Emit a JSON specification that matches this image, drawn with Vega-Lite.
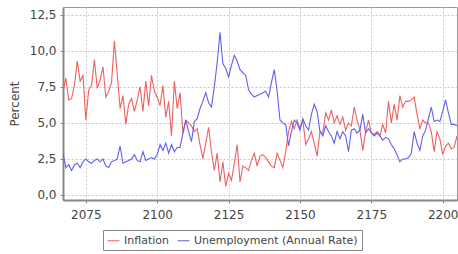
{
"$schema":"https://vega.github.io/schema/vega-lite/v6.json",
"width":394,"height":193,
"autosize":{"type":"none"},
"padding":{"left":63,"top":7,"right":1,"bottom":54},
"background":"white",
"config":{"view":{"stroke":"#999","strokeWidth":1},"font":"DejaVu Sans"},
"data":{"values":[
{"year":2067,"series":"Inflation","value":7.2},{"year":2068,"series":"Inflation","value":8.1},{"year":2069,"series":"Inflation","value":6.6},{"year":2070,"series":"Inflation","value":6.7},{"year":2071,"series":"Inflation","value":7.6},{"year":2072,"series":"Inflation","value":9.3},{"year":2073,"series":"Inflation","value":7.9},{"year":2074,"series":"Inflation","value":8.3},{"year":2075,"series":"Inflation","value":5.2},{"year":2076,"series":"Inflation","value":7.3},{"year":2077,"series":"Inflation","value":7.6},{"year":2078,"series":"Inflation","value":9.4},{"year":2079,"series":"Inflation","value":7.4},{"year":2080,"series":"Inflation","value":8.0},{"year":2081,"series":"Inflation","value":8.9},{"year":2082,"series":"Inflation","value":6.8},{"year":2083,"series":"Inflation","value":7.2},{"year":2084,"series":"Inflation","value":7.8},{"year":2085,"series":"Inflation","value":10.7},{"year":2086,"series":"Inflation","value":8.4},{"year":2087,"series":"Inflation","value":6.0},{"year":2088,"series":"Inflation","value":6.9},{"year":2089,"series":"Inflation","value":4.9},{"year":2090,"series":"Inflation","value":6.3},{"year":2091,"series":"Inflation","value":6.7},{"year":2092,"series":"Inflation","value":5.8},{"year":2093,"series":"Inflation","value":6.6},{"year":2094,"series":"Inflation","value":7.5},{"year":2095,"series":"Inflation","value":5.8},{"year":2096,"series":"Inflation","value":7.9},{"year":2097,"series":"Inflation","value":6.2},{"year":2098,"series":"Inflation","value":8.3},{"year":2099,"series":"Inflation","value":7.2},{"year":2100,"series":"Inflation","value":6.8},{"year":2101,"series":"Inflation","value":6.2},{"year":2102,"series":"Inflation","value":7.6},{"year":2103,"series":"Inflation","value":5.4},{"year":2104,"series":"Inflation","value":6.5},{"year":2105,"series":"Inflation","value":4.1},{"year":2106,"series":"Inflation","value":7.9},{"year":2107,"series":"Inflation","value":6.0},{"year":2108,"series":"Inflation","value":7.1},{"year":2109,"series":"Inflation","value":4.3},{"year":2110,"series":"Inflation","value":5.2},{"year":2111,"series":"Inflation","value":5.0},{"year":2112,"series":"Inflation","value":4.8},{"year":2113,"series":"Inflation","value":4.4},{"year":2114,"series":"Inflation","value":4.6},{"year":2115,"series":"Inflation","value":3.5},{"year":2116,"series":"Inflation","value":2.5},{"year":2117,"series":"Inflation","value":3.6},{"year":2118,"series":"Inflation","value":4.7},{"year":2119,"series":"Inflation","value":3.0},{"year":2120,"series":"Inflation","value":1.7},{"year":2121,"series":"Inflation","value":2.9},{"year":2122,"series":"Inflation","value":0.9},{"year":2123,"series":"Inflation","value":2.3},{"year":2124,"series":"Inflation","value":0.6},{"year":2125,"series":"Inflation","value":1.5},{"year":2126,"series":"Inflation","value":1.0},{"year":2127,"series":"Inflation","value":2.2},{"year":2128,"series":"Inflation","value":3.5},{"year":2129,"series":"Inflation","value":0.9},{"year":2130,"series":"Inflation","value":2.0},{"year":2131,"series":"Inflation","value":1.9},{"year":2132,"series":"Inflation","value":1.7},{"year":2133,"series":"Inflation","value":2.4},{"year":2134,"series":"Inflation","value":2.9},{"year":2135,"series":"Inflation","value":2.0},{"year":2136,"series":"Inflation","value":2.7},{"year":2137,"series":"Inflation","value":2.8},{"year":2138,"series":"Inflation","value":2.6},{"year":2139,"series":"Inflation","value":2.3},{"year":2140,"series":"Inflation","value":2.0},{"year":2141,"series":"Inflation","value":1.9},{"year":2142,"series":"Inflation","value":2.9},{"year":2143,"series":"Inflation","value":2.4},{"year":2144,"series":"Inflation","value":1.9},{"year":2145,"series":"Inflation","value":3.0},{"year":2146,"series":"Inflation","value":4.4},{"year":2147,"series":"Inflation","value":5.1},{"year":2148,"series":"Inflation","value":4.6},{"year":2149,"series":"Inflation","value":5.2},{"year":2150,"series":"Inflation","value":4.6},{"year":2151,"series":"Inflation","value":5.2},{"year":2152,"series":"Inflation","value":3.5},{"year":2153,"series":"Inflation","value":3.9},{"year":2154,"series":"Inflation","value":4.4},{"year":2155,"series":"Inflation","value":3.6},{"year":2156,"series":"Inflation","value":2.7},{"year":2157,"series":"Inflation","value":4.4},{"year":2158,"series":"Inflation","value":4.3},{"year":2159,"series":"Inflation","value":5.7},{"year":2160,"series":"Inflation","value":5.2},{"year":2161,"series":"Inflation","value":5.9},{"year":2162,"series":"Inflation","value":5.0},{"year":2163,"series":"Inflation","value":5.5},{"year":2164,"series":"Inflation","value":4.9},{"year":2165,"series":"Inflation","value":5.4},{"year":2166,"series":"Inflation","value":4.5},{"year":2167,"series":"Inflation","value":5.0},{"year":2168,"series":"Inflation","value":4.8},{"year":2169,"series":"Inflation","value":6.1},{"year":2170,"series":"Inflation","value":5.2},{"year":2171,"series":"Inflation","value":4.5},{"year":2172,"series":"Inflation","value":3.1},{"year":2173,"series":"Inflation","value":4.4},{"year":2174,"series":"Inflation","value":5.2},{"year":2175,"series":"Inflation","value":4.3},{"year":2176,"series":"Inflation","value":4.2},{"year":2177,"series":"Inflation","value":4.4},{"year":2178,"series":"Inflation","value":4.1},{"year":2179,"series":"Inflation","value":4.9},{"year":2180,"series":"Inflation","value":4.3},{"year":2181,"series":"Inflation","value":6.5},{"year":2182,"series":"Inflation","value":5.0},{"year":2183,"series":"Inflation","value":6.3},{"year":2184,"series":"Inflation","value":5.2},{"year":2185,"series":"Inflation","value":6.9},{"year":2186,"series":"Inflation","value":6.1},{"year":2187,"series":"Inflation","value":6.5},{"year":2188,"series":"Inflation","value":6.5},{"year":2189,"series":"Inflation","value":6.6},{"year":2190,"series":"Inflation","value":6.8},{"year":2191,"series":"Inflation","value":5.6},{"year":2192,"series":"Inflation","value":4.6},{"year":2193,"series":"Inflation","value":5.2},{"year":2194,"series":"Inflation","value":5.0},{"year":2195,"series":"Inflation","value":5.0},{"year":2196,"series":"Inflation","value":4.4},{"year":2197,"series":"Inflation","value":3.0},{"year":2198,"series":"Inflation","value":4.4},{"year":2199,"series":"Inflation","value":3.9},{"year":2200,"series":"Inflation","value":2.8},{"year":2201,"series":"Inflation","value":3.4},{"year":2202,"series":"Inflation","value":3.6},{"year":2203,"series":"Inflation","value":3.2},{"year":2204,"series":"Inflation","value":3.3},{"year":2205,"series":"Inflation","value":4.1},
{"year":2067,"series":"Unemployment (Annual Rate)","value":2.9},{"year":2068,"series":"Unemployment (Annual Rate)","value":1.9},{"year":2069,"series":"Unemployment (Annual Rate)","value":2.1},{"year":2070,"series":"Unemployment (Annual Rate)","value":1.7},{"year":2071,"series":"Unemployment (Annual Rate)","value":2.1},{"year":2072,"series":"Unemployment (Annual Rate)","value":2.2},{"year":2073,"series":"Unemployment (Annual Rate)","value":1.9},{"year":2074,"series":"Unemployment (Annual Rate)","value":2.3},{"year":2075,"series":"Unemployment (Annual Rate)","value":2.5},{"year":2076,"series":"Unemployment (Annual Rate)","value":2.3},{"year":2077,"series":"Unemployment (Annual Rate)","value":2.2},{"year":2078,"series":"Unemployment (Annual Rate)","value":2.4},{"year":2079,"series":"Unemployment (Annual Rate)","value":2.5},{"year":2080,"series":"Unemployment (Annual Rate)","value":2.3},{"year":2081,"series":"Unemployment (Annual Rate)","value":2.5},{"year":2082,"series":"Unemployment (Annual Rate)","value":2.0},{"year":2083,"series":"Unemployment (Annual Rate)","value":1.9},{"year":2084,"series":"Unemployment (Annual Rate)","value":2.3},{"year":2085,"series":"Unemployment (Annual Rate)","value":2.4},{"year":2086,"series":"Unemployment (Annual Rate)","value":2.5},{"year":2087,"series":"Unemployment (Annual Rate)","value":3.4},{"year":2088,"series":"Unemployment (Annual Rate)","value":2.2},{"year":2089,"series":"Unemployment (Annual Rate)","value":2.3},{"year":2090,"series":"Unemployment (Annual Rate)","value":2.4},{"year":2091,"series":"Unemployment (Annual Rate)","value":2.5},{"year":2092,"series":"Unemployment (Annual Rate)","value":2.8},{"year":2093,"series":"Unemployment (Annual Rate)","value":2.4},{"year":2094,"series":"Unemployment (Annual Rate)","value":2.3},{"year":2095,"series":"Unemployment (Annual Rate)","value":3.0},{"year":2096,"series":"Unemployment (Annual Rate)","value":2.4},{"year":2097,"series":"Unemployment (Annual Rate)","value":2.5},{"year":2098,"series":"Unemployment (Annual Rate)","value":2.6},{"year":2099,"series":"Unemployment (Annual Rate)","value":2.5},{"year":2100,"series":"Unemployment (Annual Rate)","value":2.8},{"year":2101,"series":"Unemployment (Annual Rate)","value":3.5},{"year":2102,"series":"Unemployment (Annual Rate)","value":3.1},{"year":2103,"series":"Unemployment (Annual Rate)","value":3.6},{"year":2104,"series":"Unemployment (Annual Rate)","value":2.9},{"year":2105,"series":"Unemployment (Annual Rate)","value":3.5},{"year":2106,"series":"Unemployment (Annual Rate)","value":3.0},{"year":2107,"series":"Unemployment (Annual Rate)","value":3.3},{"year":2108,"series":"Unemployment (Annual Rate)","value":3.3},{"year":2109,"series":"Unemployment (Annual Rate)","value":4.3},{"year":2110,"series":"Unemployment (Annual Rate)","value":5.2},{"year":2111,"series":"Unemployment (Annual Rate)","value":4.4},{"year":2112,"series":"Unemployment (Annual Rate)","value":3.7},{"year":2113,"series":"Unemployment (Annual Rate)","value":5.1},{"year":2114,"series":"Unemployment (Annual Rate)","value":5.3},{"year":2115,"series":"Unemployment (Annual Rate)","value":6.0},{"year":2116,"series":"Unemployment (Annual Rate)","value":6.5},{"year":2117,"series":"Unemployment (Annual Rate)","value":7.1},{"year":2118,"series":"Unemployment (Annual Rate)","value":6.4},{"year":2119,"series":"Unemployment (Annual Rate)","value":6.1},{"year":2120,"series":"Unemployment (Annual Rate)","value":7.5},{"year":2121,"series":"Unemployment (Annual Rate)","value":9.2},{"year":2122,"series":"Unemployment (Annual Rate)","value":11.3},{"year":2123,"series":"Unemployment (Annual Rate)","value":9.1},{"year":2124,"series":"Unemployment (Annual Rate)","value":8.8},{"year":2125,"series":"Unemployment (Annual Rate)","value":8.2},{"year":2126,"series":"Unemployment (Annual Rate)","value":9.0},{"year":2127,"series":"Unemployment (Annual Rate)","value":9.7},{"year":2128,"series":"Unemployment (Annual Rate)","value":9.3},{"year":2129,"series":"Unemployment (Annual Rate)","value":8.7},{"year":2130,"series":"Unemployment (Annual Rate)","value":8.5},{"year":2131,"series":"Unemployment (Annual Rate)","value":8.3},{"year":2132,"series":"Unemployment (Annual Rate)","value":7.3},{"year":2133,"series":"Unemployment (Annual Rate)","value":7.0},{"year":2134,"series":"Unemployment (Annual Rate)","value":6.8},{"year":2135,"series":"Unemployment (Annual Rate)","value":6.9},{"year":2136,"series":"Unemployment (Annual Rate)","value":7.0},{"year":2137,"series":"Unemployment (Annual Rate)","value":7.1},{"year":2138,"series":"Unemployment (Annual Rate)","value":7.2},{"year":2139,"series":"Unemployment (Annual Rate)","value":6.8},{"year":2140,"series":"Unemployment (Annual Rate)","value":7.8},{"year":2141,"series":"Unemployment (Annual Rate)","value":8.7},{"year":2142,"series":"Unemployment (Annual Rate)","value":7.2},{"year":2143,"series":"Unemployment (Annual Rate)","value":5.2},{"year":2144,"series":"Unemployment (Annual Rate)","value":5.0},{"year":2145,"series":"Unemployment (Annual Rate)","value":4.9},{"year":2146,"series":"Unemployment (Annual Rate)","value":3.4},{"year":2147,"series":"Unemployment (Annual Rate)","value":4.4},{"year":2148,"series":"Unemployment (Annual Rate)","value":5.2},{"year":2149,"series":"Unemployment (Annual Rate)","value":5.0},{"year":2150,"series":"Unemployment (Annual Rate)","value":4.5},{"year":2151,"series":"Unemployment (Annual Rate)","value":5.3},{"year":2152,"series":"Unemployment (Annual Rate)","value":4.8},{"year":2153,"series":"Unemployment (Annual Rate)","value":4.5},{"year":2154,"series":"Unemployment (Annual Rate)","value":5.6},{"year":2155,"series":"Unemployment (Annual Rate)","value":6.3},{"year":2156,"series":"Unemployment (Annual Rate)","value":5.8},{"year":2157,"series":"Unemployment (Annual Rate)","value":4.4},{"year":2158,"series":"Unemployment (Annual Rate)","value":4.1},{"year":2159,"series":"Unemployment (Annual Rate)","value":4.8},{"year":2160,"series":"Unemployment (Annual Rate)","value":4.4},{"year":2161,"series":"Unemployment (Annual Rate)","value":4.1},{"year":2162,"series":"Unemployment (Annual Rate)","value":3.6},{"year":2163,"series":"Unemployment (Annual Rate)","value":4.4},{"year":2164,"series":"Unemployment (Annual Rate)","value":3.9},{"year":2165,"series":"Unemployment (Annual Rate)","value":4.4},{"year":2166,"series":"Unemployment (Annual Rate)","value":4.1},{"year":2167,"series":"Unemployment (Annual Rate)","value":3.0},{"year":2168,"series":"Unemployment (Annual Rate)","value":4.5},{"year":2169,"series":"Unemployment (Annual Rate)","value":4.6},{"year":2170,"series":"Unemployment (Annual Rate)","value":4.3},{"year":2171,"series":"Unemployment (Annual Rate)","value":4.5},{"year":2172,"series":"Unemployment (Annual Rate)","value":5.6},{"year":2173,"series":"Unemployment (Annual Rate)","value":4.3},{"year":2174,"series":"Unemployment (Annual Rate)","value":4.6},{"year":2175,"series":"Unemployment (Annual Rate)","value":4.3},{"year":2176,"series":"Unemployment (Annual Rate)","value":4.1},{"year":2177,"series":"Unemployment (Annual Rate)","value":4.3},{"year":2178,"series":"Unemployment (Annual Rate)","value":4.1},{"year":2179,"series":"Unemployment (Annual Rate)","value":3.8},{"year":2180,"series":"Unemployment (Annual Rate)","value":4.0},{"year":2181,"series":"Unemployment (Annual Rate)","value":3.9},{"year":2182,"series":"Unemployment (Annual Rate)","value":3.5},{"year":2183,"series":"Unemployment (Annual Rate)","value":3.2},{"year":2184,"series":"Unemployment (Annual Rate)","value":2.8},{"year":2185,"series":"Unemployment (Annual Rate)","value":2.3},{"year":2186,"series":"Unemployment (Annual Rate)","value":2.5},{"year":2187,"series":"Unemployment (Annual Rate)","value":2.5},{"year":2188,"series":"Unemployment (Annual Rate)","value":2.6},{"year":2189,"series":"Unemployment (Annual Rate)","value":2.9},{"year":2190,"series":"Unemployment (Annual Rate)","value":4.4},{"year":2191,"series":"Unemployment (Annual Rate)","value":3.6},{"year":2192,"series":"Unemployment (Annual Rate)","value":3.1},{"year":2193,"series":"Unemployment (Annual Rate)","value":4.1},{"year":2194,"series":"Unemployment (Annual Rate)","value":4.5},{"year":2195,"series":"Unemployment (Annual Rate)","value":5.3},{"year":2196,"series":"Unemployment (Annual Rate)","value":6.1},{"year":2197,"series":"Unemployment (Annual Rate)","value":5.1},{"year":2198,"series":"Unemployment (Annual Rate)","value":5.2},{"year":2199,"series":"Unemployment (Annual Rate)","value":5.1},{"year":2200,"series":"Unemployment (Annual Rate)","value":5.8},{"year":2201,"series":"Unemployment (Annual Rate)","value":6.6},{"year":2202,"series":"Unemployment (Annual Rate)","value":5.7},{"year":2203,"series":"Unemployment (Annual Rate)","value":4.9},{"year":2204,"series":"Unemployment (Annual Rate)","value":4.9},{"year":2205,"series":"Unemployment (Annual Rate)","value":4.8}
]},
"mark":{"type":"line","strokeWidth":1.1,"clip":true},
"encoding":{
"x":{"field":"year","type":"quantitative","scale":{"domain":[2067,2205],"nice":false,"zero":false},
"axis":{"title":null,"values":[2075,2100,2125,2150,2175,2200],"format":"d","grid":true,"gridDash":[2,2],"gridColor":"#c8c8c8","domainColor":"#888","domainWidth":2,"tickColor":"#888","tickSize":3,"labelFont":"DejaVu Sans","labelFontSize":12,"labelColor":"#444","labelPadding":6}},
"y":{"field":"value","type":"quantitative","scale":{"domain":[-0.35,13.05],"nice":false,"zero":false},
"axis":{"title":"Percent","values":[0,2.5,5,7.5,10,12.5],"labelExpr":"replace(format(datum.value,'.1f'),'.',',')","grid":true,"gridDash":[2,2],"gridColor":"#c8c8c8","domainColor":"#888","domainWidth":2,"tickColor":"#888","tickSize":3,"labelFont":"DejaVu Sans","labelFontSize":12,"labelColor":"#444","labelPadding":4,"titleFont":"DejaVu Sans","titleFontSize":12,"titleFontWeight":"normal","titleColor":"#444","titlePadding":8}},
"color":{"field":"series","type":"nominal","scale":{"domain":["Inflation","Unemployment (Annual Rate)"],"range":["#f06060","#6060f0"]},
"legend":{"title":null,"orient":"none","legendX":40,"legendY":223,"direction":"horizontal","symbolType":"stroke","symbolSize":140,"symbolStrokeWidth":1,"strokeColor":"#888","padding":4,"labelFont":"DejaVu Sans","labelFontSize":11,"labelColor":"#444","labelLimit":0,"columnPadding":6,"labelOffset":4}}
}
}
